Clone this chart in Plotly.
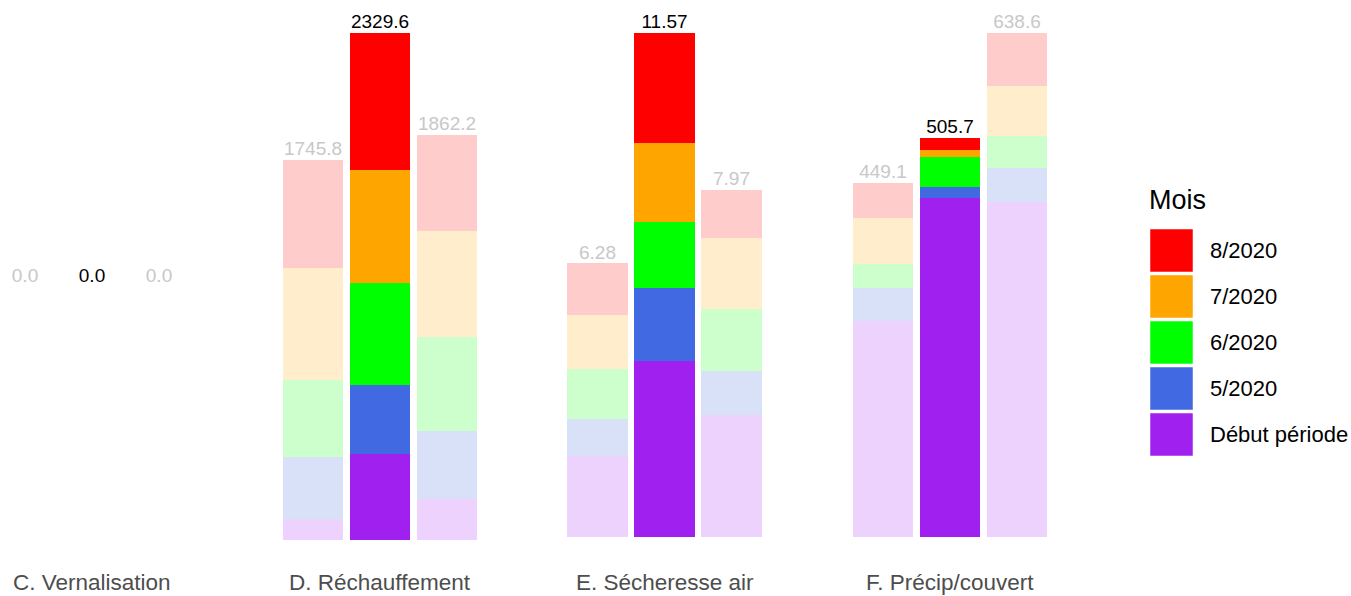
import plotly.graph_objects as go

# ---------------- data ----------------
months = ["Début période", "5/2020", "6/2020", "7/2020", "8/2020"]   # stack order bottom -> top
month_colors = ["#A020F0", "#4169E1", "#00FF00", "#FFA500", "#FF0000"]

panel_titles = ["C. Vernalisation", "D. Réchauffement", "E. Sécheresse air", "F. Précip/couvert"]
panel_decimals = [1, 1, 2, 1]

# each list: month values bottom -> top (Début période, 5, 6, 7, 8/2020)
C_left = [0, 0, 0, 0, 0]
C_mid = [0, 0, 0, 0, 0]
C_right = [0, 0, 0, 0, 0]

D_left = [96.5, 285.0, 355.0, 514.6, 494.7]
D_mid = [396.1, 316.0, 469.0, 519.0, 629.5]
D_right = [189.2, 312.5, 432.0, 484.0, 444.5]

E_left = [1.86, 0.85, 1.14, 1.24, 1.19]
E_mid = [4.03, 1.69, 1.52, 1.80, 2.53]
E_right = [2.79, 1.03, 1.41, 1.64, 1.10]

F_left = [273.5, 42.6, 29.6, 58.7, 44.7]
F_mid = [430.1, 13.1, 38.0, 9.3, 15.2]
F_right = [424.7, 43.0, 40.9, 62.4, 67.6]

panel_data = [
    (C_left, C_mid, C_right),
    (D_left, D_mid, D_right),
    (E_left, E_mid, E_right),
    (F_left, F_mid, F_right),
]
bar_positions = [1, 2, 3]

# ---------------- styling / layout geometry ----------------
W, H = 1351, 596
FONT = "Liberation Sans, Arial, sans-serif"
unit_px = 67.0
panel_centers_px = [92, 380, 664.5, 950]
panel_bottom_px = [540, 540, 537, 537]
panel_top_px = [33, 33, 33, 33]


def fade(hex_color, alpha=0.2):
    h = hex_color.lstrip("#")
    r, g, b = int(h[0:2], 16), int(h[2:4], 16), int(h[4:6], 16)
    f = lambda c: round(255 - alpha * (255 - c))
    return "#{:02X}{:02X}{:02X}".format(f(r), f(g), f(b))


def px_x(p):
    return p / W


def px_y(p):
    return 1 - p / H


fig = go.Figure()
layout_axes = {}

for i, (title, dec, bars) in enumerate(zip(panel_titles, panel_decimals, panel_data)):
    ax = "" if i == 0 else str(i + 1)
    xref, yref = "x" + ax, "y" + ax
    left, mid, right = bars

    for m in range(len(months)):
        # side bars (faded)
        fig.add_trace(go.Bar(
            x=[bar_positions[0], bar_positions[2]], y=[left[m], right[m]],
            width=0.9, marker=dict(color=fade(month_colors[m]), line=dict(width=0)),
            xaxis=xref, yaxis=yref, showlegend=False, hoverinfo="skip",
        ))
        # central bar (full colour)
        fig.add_trace(go.Bar(
            x=[bar_positions[1]], y=[mid[m]], name=months[m],
            width=0.9, marker=dict(color=month_colors[m], line=dict(width=0)),
            xaxis=xref, yaxis=yref, showlegend=False,
        ))

    totals = [sum(left), sum(mid), sum(right)]
    labels = [f"{t:.{dec}f}" for t in totals]
    fig.add_trace(go.Scatter(
        x=bar_positions, y=totals, text=labels, mode="text",
        textposition="top center", cliponaxis=False,
        textfont=dict(family=FONT, size=19, color=["#C8C8C8", "#000000", "#C8C8C8"]),
        xaxis=xref, yaxis=yref, showlegend=False, hoverinfo="skip",
    ))

    c = panel_centers_px[i]
    half = 1.6 * unit_px
    d0 = max(0, c - half)
    d1 = c + half
    xr = [2 - (c - d0) / unit_px, 2 + (d1 - c) / unit_px]
    ymax = max(totals)
    yr = [0, ymax] if ymax > 0 else [-1, 1]

    layout_axes["xaxis" + ax] = dict(domain=[px_x(d0), px_x(d1)], range=xr, visible=False,
                                     anchor=yref, fixedrange=True)
    layout_axes["yaxis" + ax] = dict(domain=[px_y(panel_bottom_px[i]), px_y(panel_top_px[i])],
                                     range=yr, visible=False, anchor=xref, fixedrange=True)

    fig.add_annotation(
        x=2, xref=xref, y=px_y(582), yref="paper", text=title, showarrow=False,
        xanchor="center", yanchor="middle", borderpad=0,
        font=dict(family=FONT, size=22.5, color="#4D4D4D"),
    )

# ---------------- custom legend ----------------
fig.add_annotation(
    x=px_x(1147), y=px_y(200), xref="paper", yref="paper", text="Mois", showarrow=False,
    xanchor="left", yanchor="middle", font=dict(family=FONT, size=27, color="#000000"),
)
sw_top = 229
sw_size = 43
sw_step = 46
legend_order = list(range(len(months)))[::-1]
for k, m in enumerate(legend_order):
    y0 = sw_top + k * sw_step
    fig.add_shape(
        type="rect", xref="paper", yref="paper",
        x0=px_x(1150), x1=px_x(1150 + sw_size), y0=px_y(y0 + sw_size), y1=px_y(y0),
        fillcolor=month_colors[m], line=dict(width=1, color="rgba(255,255,255,0.5)"),
    )
    fig.add_annotation(
        x=px_x(1208), y=px_y(y0 + sw_size / 2), xref="paper", yref="paper",
        text=months[m], showarrow=False, xanchor="left", yanchor="middle",
        font=dict(family=FONT, size=22, color="#000000"),
    )

fig.update_layout(
    width=W, height=H, autosize=False,
    margin=dict(l=0, r=0, t=0, b=0),
    barmode="stack",
    paper_bgcolor="white", plot_bgcolor="white",
    showlegend=False,
    font=dict(family=FONT),
    **layout_axes,
)

fig.write_html(
    "out.html",
    config={"displayModeBar": False},
    post_script="document.body.style.margin='0px';document.body.style.overflow='hidden';",
)
